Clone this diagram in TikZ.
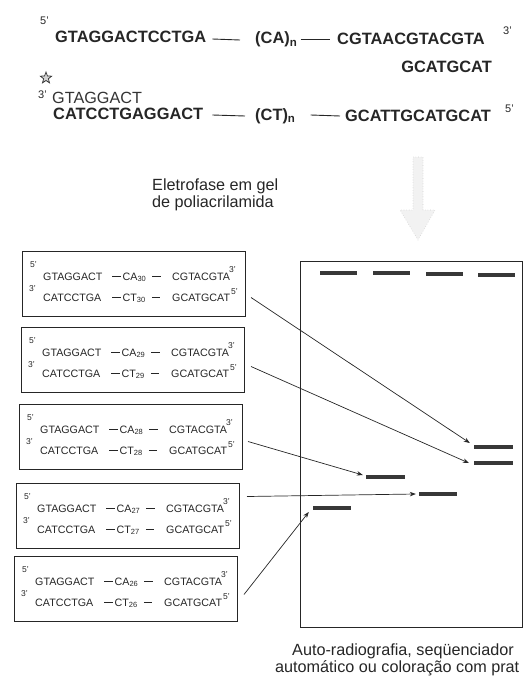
\documentclass[tikz,border=0pt]{standalone}
\usepackage{fontspec}
\setmainfont{Liberation Sans}
\usetikzlibrary{shapes.geometric,arrows.meta}
\tikzset{
  txt/.style={inner sep=0pt, anchor=base west},
  seqbold/.style={txt, font=\fontsize{16.4}{18}\selectfont\bfseries, text=black!85},
  seqreg/.style={txt, font=\fontsize{16.2}{18}\selectfont, text=black!80},
  primebig/.style={txt, font=\fontsize{11}{12}\selectfont, text=black!85},
  primesmall/.style={txt, font=\fontsize{8.5}{9}\selectfont, text=black!85},
  boxtxt/.style={txt, font=\fontsize{10.7}{12}\selectfont, text=black!85},
  boxframe/.style={draw=black!85, line width=1pt, minimum width=223pt, minimum height=65pt, inner sep=0pt},
  seqdash/.style={draw=black!85, line width=0.9pt},
  band/.style={fill=black!78, inner sep=0pt, minimum height=4pt},
  conn/.style={draw=black!85, line width=0.7pt, -{Stealth[length=6pt,width=4.5pt]}},
  label/.style={txt, font=\fontsize{16.2}{17}\selectfont, text=black!85},
}
\newcommand\mdash{\rule[3pt]{8.5pt}{0.7pt}}
\newcommand\seqbox[4]{%
  \node[boxframe, anchor=north west] (#1) at (#2,#3) {};
  \node[primesmall] (#1pa) at (#2+8,#3+16) {5'};
  \node[primesmall] (#1pb) at (#2+7,#3+40) {3'};
  \node[primesmall] (#1pc) at (#2+207,#3+21) {3'};
  \node[primesmall] (#1pd) at (#2+209,#3+43) {5'};
  \node[boxtxt] (#1la) at (#2+21,#3+29) {GTAGGACT};
  \node[boxtxt] (#1ma) at (#2+90,#3+29) {\mdash\hspace{2pt}CA\textsubscript{#4}\hspace{6pt}\mdash};
  \node[boxtxt] (#1ra) at (#2+150,#3+29) {CGTACGTA};
  \node[boxtxt] (#1lb) at (#2+21,#3+50) {CATCCTGA};
  \node[boxtxt] (#1mb) at (#2+90,#3+50) {\mdash\hspace{2pt}CT\textsubscript{#4}\hspace{6pt}\mdash};
  \node[boxtxt] (#1rb) at (#2+150,#3+50) {GCATGCAT};
}
\begin{document}
\begin{tikzpicture}[x=1pt,y=-1pt]
\useasboundingbox (0,0) rectangle (526,685);

% top strands
\node[primebig] (p5a) at (40,25) {5'};
\node[seqbold] (g1) at (55,43) {GTAGGACTCCTGA};
\node[seqbold] (ca) at (255,44) {(CA)\textsubscript{n}};
\node[seqbold] (cg) at (337,45) {CGTAACGTACGTA};
\node[primebig] (p3a) at (503,35) {3'};
\node[seqbold, anchor=base east] (gcat) at (492,73) {GCATGCAT};
\draw[seqdash] ([shift={(6,-4)}]g1.base east) -- ([shift={(-15,-4)}]ca.base west);
\draw[seqdash] ([shift={(3,-5)}]ca.base east) -- ([shift={(-7,-6)}]cg.base west);

\node[star, star points=5, star point ratio=2.4, draw=black!80, fill=gray!35, line width=0.7pt, minimum size=12pt, inner sep=0pt] (star) at (46,78) {};
\node[primebig] (p3b) at (38,99) {3'};
\node[seqreg] (g2) at (52,103) {GTAGGACT};
\node[seqbold] (c1) at (53,119) {CATCCTGAGGACT};
\node[seqbold] (ct) at (255,120) {(CT)\textsubscript{n}};
\node[seqbold] (gc) at (345,121) {GCATTGCATGCAT};
\node[primebig] (p5b) at (505,112) {5'};
\draw[seqdash] ([shift={(9,-4)}]c1.base east) -- ([shift={(-10,-4)}]ct.base west);
\draw[seqdash] ([shift={(15,-5)}]ct.base east) -- ([shift={(-5,-5)}]gc.base west);

% label and big arrow
\node[label, align=left, anchor=north west] (elet) at (152,179) {Eletrofase em gel\\de poliacrilamida};
\draw[fill=gray!10, draw=gray!35, line width=0.6pt, dotted]
  (413,157) -- (423,157) -- (423,210) -- (435,210) -- (418,240) -- (400,210) -- (413,210) -- cycle;

% boxes
\seqbox{b1}{22}{251}{30}
\seqbox{b2}{21}{327}{29}
\seqbox{b3}{19}{404}{28}
\seqbox{b4}{16}{483}{27}
\seqbox{b5}{14}{556}{26}

% gel
\node[draw=black!85, line width=1pt, minimum width=222pt, minimum height=366pt, inner sep=0pt, anchor=north west] (gel) at (300,261) {};
\node[band, minimum width=37pt] (t1) at (338.5,273) {};
\node[band, minimum width=37pt] (t2) at (391.5,273) {};
\node[band, minimum width=37pt] (t3) at (444.5,274) {};
\node[band, minimum width=37pt] (t4) at (496.5,275) {};
\node[band, minimum width=39pt] (ba) at (493.5,447) {};
\node[band, minimum width=39pt] (bb) at (493.5,463) {};
\node[band, minimum width=39pt] (bc) at (385.5,477) {};
\node[band, minimum width=38pt] (bd) at (438,494) {};
\node[band, minimum width=38pt] (be) at (332,508) {};

% arrows
\draw[conn] ([shift={(5,13.5)}]b1.east) -- ([shift={(-4,-4)}]ba.west);
\draw[conn] ([shift={(6,6.5)}]b2.east) -- ([shift={(-5,0)}]bb.west);
\draw[conn] ([shift={(5,4.5)}]b3.east) -- ([shift={(-3,-2)}]bc.west);
\draw[conn] ([shift={(7,-19.5)}]b4.east) -- ([shift={(-3,0)}]bd.west);
\draw[conn] ([shift={(6,5.5)}]b5.east) -- ([shift={(-4,4)}]be.west);

% bottom caption
\node[label] (cap1) at (292,655) {Auto-radiografia, seqüenciador};
\node[label] (cap2) at (275,672) {automático ou coloração com prat};
\end{tikzpicture}
\end{document}
